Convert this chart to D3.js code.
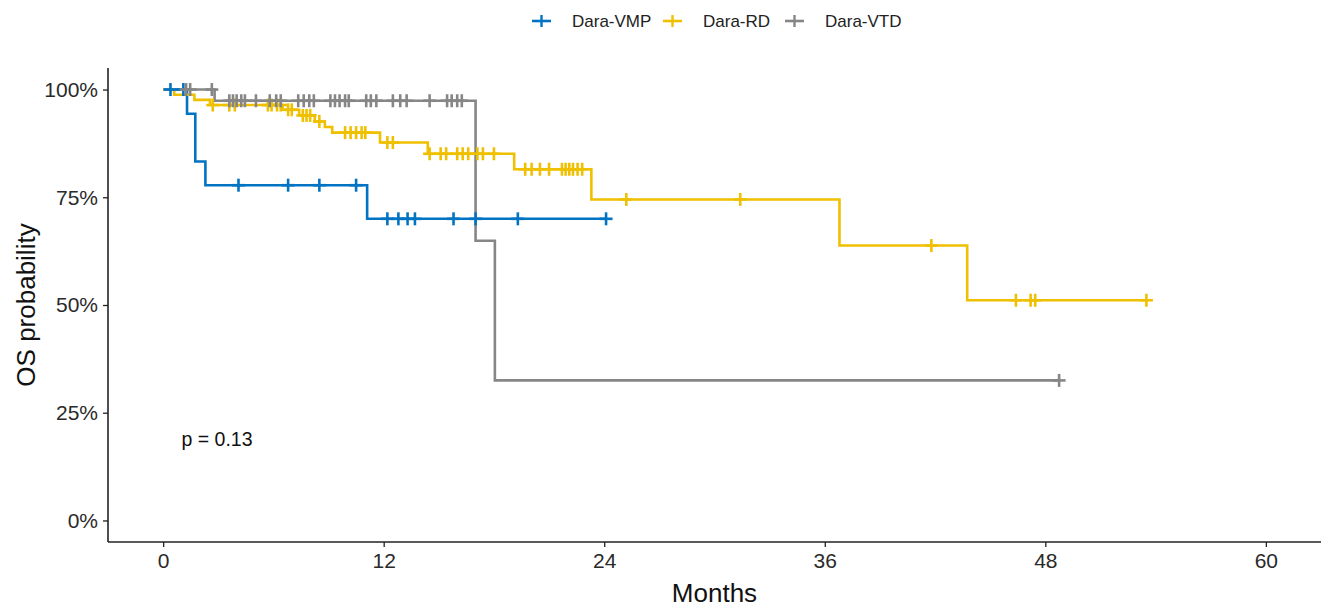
<!DOCTYPE html>
<html>
<head>
<meta charset="utf-8">
<script src="https://cdn.jsdelivr.net/npm/d3@7"></script>
<style>
  html, body { margin: 0; padding: 0; background: #fff; }
  svg { display: block; font-family: "Liberation Sans", Arial, sans-serif; }
</style>
</head>
<body>
<svg id="chart" width="1325" height="607"></svg>
<script>
// Kaplan-Meier overall survival by treatment group
const groups = ["Dara-VMP", "Dara-RD", "Dara-VTD"];
const colors = ["#0073C2", "#EFC000", "#868686"];

// Step times (months) and survival level after each step
const vmpTime = [0, 1.3, 1.75, 2.3, 11.1];
const vmpSurv = [1, 0.944, 0.833, 0.778, 0.70];
const vmpEnd = 24.1;
const vmpCensor = [0.4, 1.1, 4.1, 6.8, 8.5, 10.5, 12.2, 12.8, 13.3, 13.7, 15.8, 17.0, 19.3, 24.1];

const rdTime = [0, 0.6, 1.7, 2.55, 6.5, 7.4, 8.25, 8.8, 9.2, 11.8, 14.4, 19.1, 23.3, 36.8, 43.75];
const rdSurv = [1, 0.988, 0.976, 0.964, 0.953, 0.940, 0.926, 0.913, 0.900, 0.877, 0.851, 0.815, 0.745, 0.638, 0.511];
const rdEnd = 53.5;
const rdCensor = [2.7, 3.6, 3.9, 5.7, 5.9, 6.2, 6.4, 6.8, 7.0, 7.6, 7.8, 8.0, 8.5, 9.9, 10.2, 10.5, 10.8, 11.0,
  12.2, 12.5, 14.5, 15.1, 15.4, 16.0, 16.3, 16.6, 17.1, 17.4, 18.0,
  19.7, 20.05, 20.5, 21.0, 21.7, 21.9, 22.1, 22.3, 22.55, 22.8, 25.2, 31.4, 41.8, 46.4, 47.2, 47.45, 53.5];

const vtdTime = [0, 2.8, 17.0, 18.05];
const vtdSurv = [1, 0.974, 0.649, 0.325];
const vtdEnd = 48.75;
const vtdCensor = [1.25, 1.47, 2.65, 3.6, 3.8, 4.0, 4.25, 4.45, 5.05, 5.8, 6.15, 6.4, 7.35, 7.65, 7.95, 8.2,
  9.1, 9.35, 9.6, 9.9, 10.1, 11.05, 11.3, 11.6, 12.5, 12.9, 13.25, 14.5, 15.45, 15.7, 16.0, 16.25, 48.75];

const xTicks = [0, 12, 24, 36, 48, 60];
const yTicks = [0, 0.25, 0.5, 0.75, 1];
const pValueText = "p = 0.13";

const series = [
  { name: groups[0], color: colors[0], time: vmpTime, surv: vmpSurv, end: vmpEnd, censor: vmpCensor },
  { name: groups[1], color: colors[1], time: rdTime, surv: rdSurv, end: rdEnd, censor: rdCensor },
  { name: groups[2], color: colors[2], time: vtdTime, surv: vtdSurv, end: vtdEnd, censor: vtdCensor }
];

const svg = d3.select("#chart");
const plotLeft = 108, plotRight = 1321, plotTop = 68, plotBottom = 542;

const x = d3.scaleLinear().domain([-3, 63]).range([plotLeft, plotRight]);
const y = d3.scaleLinear().domain([-0.05, 1.05]).range([plotBottom, plotTop]);

function survAt(s, t) {
  let v = s.surv[0];
  for (let i = 0; i < s.time.length; i++) if (s.time[i] <= t) v = s.surv[i];
  return v;
}

const line = d3.line().x(d => x(d[0])).y(d => y(d[1])).curve(d3.curveStepAfter);

// Survival curves
const curves = svg.append("g");
series.forEach(s => {
  const pts = s.time.map((t, i) => [t, s.surv[i]]);
  pts.push([s.end, s.surv[s.surv.length - 1]]);
  curves.append("path")
    .datum(pts)
    .attr("d", line)
    .attr("fill", "none")
    .attr("stroke", s.color)
    .attr("stroke-width", 2.6);
});

// Censor marks
const cross = 6.5;
series.forEach(s => {
  const g = svg.append("g").attr("stroke", s.color).attr("stroke-width", 2.6);
  s.censor.forEach(t => {
    const cx = x(t), cy = y(survAt(s, t));
    g.append("line").attr("x1", cx - cross).attr("x2", cx + cross).attr("y1", cy).attr("y2", cy);
    g.append("line").attr("x1", cx).attr("x2", cx).attr("y1", cy - cross).attr("y2", cy + cross);
  });
});

// Axes
const axisColor = "#222";
const xAxis = svg.append("g").attr("transform", `translate(0,${plotBottom})`)
  .call(d3.axisBottom(x).tickValues(xTicks).tickSize(5).tickPadding(6).tickFormat(d3.format("d")));
const yAxis = svg.append("g").attr("transform", `translate(${plotLeft},0)`)
  .call(d3.axisLeft(y).tickValues(yTicks).tickSize(5).tickPadding(5).tickFormat(d3.format(".0%")));

[xAxis, yAxis].forEach(a => {
  a.select(".domain").remove();
  a.selectAll(".tick line").attr("stroke", axisColor).attr("stroke-width", 1.3);
  a.selectAll(".tick text").attr("fill", "#2a2a2a").style("font-size", "21px")
    .style("font-family", "'Liberation Sans', Arial, sans-serif");
});

svg.append("line").attr("x1", plotLeft).attr("x2", plotRight).attr("y1", plotBottom).attr("y2", plotBottom)
  .attr("stroke", axisColor).attr("stroke-width", 1.6);
svg.append("line").attr("x1", plotLeft).attr("x2", plotLeft).attr("y1", plotTop).attr("y2", plotBottom)
  .attr("stroke", axisColor).attr("stroke-width", 1.6);

// Axis titles
svg.append("text").attr("x", (plotLeft + plotRight) / 2).attr("y", 602)
  .attr("text-anchor", "middle").style("font-size", "26px").attr("fill", "#111").text("Months");
svg.append("text").attr("transform", `translate(35,${(plotTop + plotBottom) / 2}) rotate(-90)`)
  .attr("text-anchor", "middle").style("font-size", "26px").attr("fill", "#111").text("OS probability");

// p-value annotation
svg.append("text").attr("x", x(1)).attr("y", y(0.19) + 7)
  .style("font-size", "19.5px").attr("fill", "#111").text(pValueText);

// Legend
const legendX = [532, 663, 785];
const legend = svg.append("g");
series.forEach((s, i) => {
  const lx = legendX[i], ly = 21;
  legend.append("line").attr("x1", lx).attr("x2", lx + 19).attr("y1", ly).attr("y2", ly)
    .attr("stroke", s.color).attr("stroke-width", 2.6);
  legend.append("line").attr("x1", lx + 9.5).attr("x2", lx + 9.5).attr("y1", ly - 6).attr("y2", ly + 6)
    .attr("stroke", s.color).attr("stroke-width", 2.4);
  legend.append("text").attr("x", lx + 40).attr("y", ly + 6)
    .style("font-size", "17px").attr("fill", "#222").text(s.name);
});
</script>
</body>
</html>
